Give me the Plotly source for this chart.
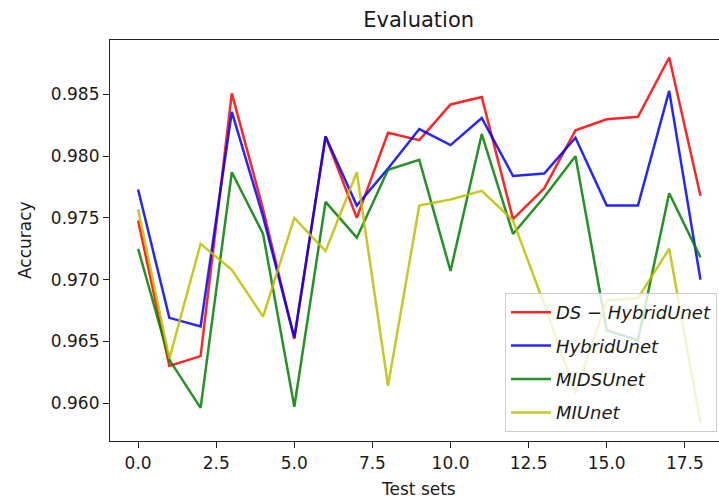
import plotly.graph_objects as go

# ---- data ----
test_sets = list(range(19))
ds_hybrid_unet = [0.9748, 0.9630, 0.9638, 0.9851, 0.9757, 0.9652, 0.9816, 0.9750, 0.9819, 0.9813,
                  0.9842, 0.9848, 0.9749, 0.9774, 0.9821, 0.9830, 0.9832, 0.9880, 0.9768]
hybrid_unet = [0.9773, 0.9669, 0.9662, 0.9836, 0.9751, 0.9653, 0.9816, 0.9760, 0.9790, 0.9822,
               0.9809, 0.9831, 0.9784, 0.9786, 0.9815, 0.9760, 0.9760, 0.9853, 0.9700]
mids_unet = [0.9725, 0.9635, 0.9596, 0.9787, 0.9737, 0.9597, 0.9763, 0.9734, 0.9789, 0.9797,
             0.9707, 0.9818, 0.9737, 0.9767, 0.9800, 0.9659, 0.9651, 0.9770, 0.9718]
mi_unet = [0.9757, 0.9636, 0.9729, 0.9708, 0.9670, 0.9750, 0.9723, 0.9787, 0.9614, 0.9760,
           0.9765, 0.9772, 0.9748, 0.9680, 0.9608, 0.9683, 0.9685, 0.9725, 0.9584]

series_names = ["<i>DS</i> − <i>HybridUnet</i>", "<i>HybridUnet</i>", "<i>MIDSUnet</i>", "<i>MIUnet</i>"]
series_values = [ds_hybrid_unet, hybrid_unet, mids_unet, mi_unet]
series_colors = ["#ff0000", "#0000ff", "#008000", "#bfbf00"]

x_tick_vals = [0.0, 2.5, 5.0, 7.5, 10.0, 12.5, 15.0, 17.5]
x_tick_text = ["0.0", "2.5", "5.0", "7.5", "10.0", "12.5", "15.0", "17.5"]
y_tick_vals = [0.960, 0.965, 0.970, 0.975, 0.980, 0.985]
y_tick_text = ["0.960", "0.965", "0.970", "0.975", "0.980", "0.985"]

FONT = "DejaVu Sans"
TXT = "#1a1a1a"

fig = go.Figure()
for i, (name, vals, col) in enumerate(zip(series_names, series_values, series_colors)):
    fig.add_trace(go.Scatter(
        x=test_sets, y=vals, mode="lines", name=name,
        line=dict(color=col, width=2.5), opacity=0.85,
        legendgroup=f"g{i}",
    ))

fig.update_layout(
    width=719, height=500,
    margin=dict(l=110, r=0, t=40, b=59),
    paper_bgcolor="white", plot_bgcolor="white",
    font=dict(family=FONT, size=17, color=TXT),
    title=dict(text="Evaluation", x=418.7 / 719, xref="container", xanchor="center",
               y=1 - 20 / 500, yref="container", yanchor="middle",
               font=dict(family=FONT, size=21, color=TXT)),
    showlegend=True,
    legend=dict(x=(717 - 110) / 609, xanchor="right", y=(441 - 432) / 401, yanchor="bottom",
                bgcolor="rgba(255,255,255,0.8)", bordercolor="#cccccc", borderwidth=1,
                font=dict(family=FONT, size=18, color=TXT),
                itemwidth=40, tracegroupgap=7),
    xaxis=dict(range=[-0.9, -0.9 + 609 / 31.24], tickvals=x_tick_vals, ticktext=x_tick_text,
               showgrid=False, zeroline=False, showline=True, linecolor="#222222", linewidth=1.2,
               mirror=True, ticks="outside", ticklen=6, tickwidth=1.2, tickcolor="#222222",
               tickfont=dict(family=FONT, size=17, color=TXT)),
    yaxis=dict(range=[0.95692, 0.98942], tickvals=y_tick_vals, ticktext=y_tick_text,
               showgrid=False, zeroline=False, showline=True, linecolor="#222222", linewidth=1.2,
               mirror=False, ticks="outside", ticklen=6, tickwidth=1.2, tickcolor="#222222",
               tickfont=dict(family=FONT, size=17, color=TXT)),
    annotations=[
        dict(text="Test sets", xref="paper", yref="paper", x=(418.5 - 110) / 609, y=-(489 - 441) / 401,
             xanchor="center", yanchor="middle", showarrow=False,
             font=dict(family=FONT, size=17, color=TXT)),
        dict(text="Accuracy", xref="paper", yref="paper", x=(24.5 - 110) / 609, y=0.5,
             xanchor="center", yanchor="middle", textangle=-90, showarrow=False,
             font=dict(family=FONT, size=17, color=TXT)),
    ],
)

fig.write_html("out.html")
